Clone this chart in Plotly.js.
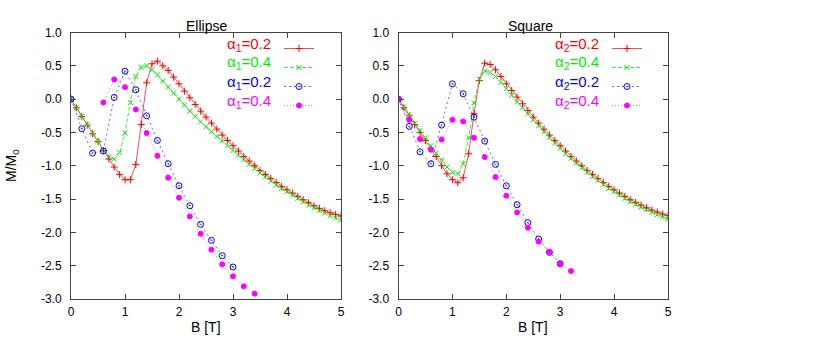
<!DOCTYPE html>
<html>
<head>
<meta charset="utf-8">
<script src="https://cdn.plot.ly/plotly-3.0.1.min.js"></script>
<style>html,body{margin:0;padding:0;background:#fff}#chart{width:839px;height:347px}</style>
</head>
<body>
<div id="chart"></div>
<script>
// ---------- data ----------
const fieldFine = [0.0,0.1,0.2,0.3,0.4,0.5,0.6,0.7,0.8,0.9,1.0,1.1,1.2,1.3,1.4,1.5,1.6,1.7,1.8,1.9,2.0,2.1,2.2,2.3,2.4,2.5,2.6,2.7,2.8,2.9,3.0,3.1,3.2,3.3,3.4,3.5,3.6,3.7,3.8,3.9,4.0,4.1,4.2,4.3,4.4,4.5,4.6,4.7,4.8,4.9,5.0];

// Ellipse panel
const ellipseA1_02 = [0,-0.13,-0.26,-0.39,-0.52,-0.635,-0.77,-0.90,-1.02,-1.13,-1.21,-1.21,-0.98,-0.38,0.245,0.53,0.57,0.50,0.43,0.33,0.23,0.12,0.02,-0.08,-0.18,-0.27,-0.36,-0.45,-0.54,-0.62,-0.70,-0.78,-0.86,-0.93,-1.00,-1.07,-1.13,-1.19,-1.25,-1.31,-1.36,-1.41,-1.46,-1.51,-1.555,-1.60,-1.64,-1.675,-1.705,-1.73,-1.755];
const ellipseA1_04 = [0,-0.13,-0.26,-0.38,-0.51,-0.63,-0.76,-0.86,-0.90,-0.80,-0.51,-0.05,0.34,0.48,0.50,0.44,0.365,0.27,0.18,0.09,0.0,-0.09,-0.18,-0.26,-0.34,-0.415,-0.49,-0.56,-0.625,-0.70,-0.77,-0.84,-0.91,-0.98,-1.04,-1.11,-1.17,-1.23,-1.29,-1.34,-1.39,-1.44,-1.49,-1.54,-1.59,-1.63,-1.67,-1.71,-1.75,-1.785,-1.82];
const ellipseBlueField = [0.0,0.2,0.4,0.6,0.8,1.0,1.2,1.4,1.6,1.8,2.0,2.2,2.4,2.6,2.8,3.0];
const ellipseBlueA1_02 = [0,-0.445,-0.81,-0.78,0.025,0.42,0.14,-0.25,-0.62,-0.97,-1.30,-1.60,-1.88,-2.12,-2.35,-2.52];
const ellipseMagField = [0.6,0.8,1.0,1.2,1.4,1.6,1.8,2.0,2.2,2.4,2.6,2.8,3.0,3.2,3.4];
const ellipseMagA1_04 = [-0.05,0.295,0.18,-0.155,-0.51,-0.85,-1.18,-1.48,-1.76,-2.02,-2.26,-2.48,-2.66,-2.81,-2.92];

// Square panel
const squareA2_02 = [0,-0.13,-0.25,-0.38,-0.50,-0.62,-0.74,-0.86,-1.00,-1.12,-1.21,-1.255,-1.18,-0.82,-0.22,0.28,0.54,0.52,0.44,0.34,0.23,0.13,0.03,-0.07,-0.17,-0.27,-0.36,-0.45,-0.54,-0.62,-0.70,-0.78,-0.86,-0.93,-1.00,-1.07,-1.13,-1.19,-1.25,-1.31,-1.36,-1.41,-1.46,-1.51,-1.55,-1.59,-1.63,-1.665,-1.695,-1.725,-1.75];
const squareA2_04 = [0,-0.12,-0.24,-0.36,-0.47,-0.58,-0.70,-0.81,-0.92,-1.02,-1.10,-1.12,-0.97,-0.58,-0.06,0.30,0.42,0.40,0.34,0.25,0.16,0.06,-0.04,-0.13,-0.22,-0.31,-0.40,-0.49,-0.58,-0.66,-0.74,-0.82,-0.89,-0.96,-1.03,-1.10,-1.16,-1.22,-1.28,-1.34,-1.39,-1.44,-1.49,-1.54,-1.58,-1.62,-1.66,-1.70,-1.735,-1.77,-1.80];
const squareBlueField = [0.0,0.2,0.4,0.6,0.8,1.0,1.2,1.4,1.6,1.8,2.0,2.2,2.4,2.6,2.8,3.0];
const squareBlueA2_02 = [0,-0.41,-0.79,-0.97,-0.39,0.23,0.08,-0.27,-0.63,-0.98,-1.30,-1.585,-1.855,-2.10,-2.30,-2.47];
const squareMagField = [0.0,0.2,0.4,0.6,0.8,1.0,1.2,1.4,1.6,1.8,2.0,2.2,2.4,2.6,2.8,3.0,3.2];
const squareMagA2_04 = [0,-0.31,-0.60,-0.76,-0.605,-0.31,-0.335,-0.58,-0.87,-1.17,-1.45,-1.70,-1.93,-2.14,-2.29,-2.47,-2.58];

const ellipseLabels = ['α<sub>1</sub>=0.2','α<sub>1</sub>=0.4','α<sub>1</sub>=0.2','α<sub>1</sub>=0.4'];
const squareLabels  = ['α<sub>2</sub>=0.2','α<sub>2</sub>=0.4','α<sub>2</sub>=0.2','α<sub>2</sub>=0.4'];
const panelTitles = ['Ellipse','Square'];
const xTickVals = [0,1,2,3,4,5];
const xTickText = ['0','1','2','3','4','5'];
const yTickVals = [-3,-2.5,-2,-1.5,-1,-0.5,0,0.5,1];
const yTickText = ['-3.0','-2.5','-2.0','-1.5','-1.0','-0.5','0.0','0.5','1.0'];

// ---------- styles ----------
const W = 839, H = 347;
const FONT = 'Liberation Sans, Arial, Helvetica, sans-serif';
const colors = ['#ff0000','#00ee00','#0000ff','#ff00ff'];
const lineColors = ['rgba(255,0,0,0.7)','rgba(0,220,0,0.7)','rgba(0,0,255,0.6)','rgba(255,0,255,0.6)'];
const styles = [
  {dash:'solid', symbol:'cross-thin', size:5},
  {dash:'4px,2px', symbol:'x-thin', size:5},
  {dash:'2px,3px', symbol:'circle-open-dot', size:6},
  {dash:'1px,2px', symbol:'circle', size:5}
];
function mk(x, y, i, xa, ya, leg) {
  const s = styles[i];
  return {
    x: x, y: y, xaxis: xa, yaxis: ya, type: 'scatter', mode: 'lines+markers',
    name: '\u00a0', legend: leg, showlegend: true, hoverinfo: 'skip',
    line: {color: lineColors[i], width: 1, dash: s.dash},
    marker: {symbol: s.symbol, size: s.size, color: colors[i],
             line: {color: colors[i], width: 1}}
  };
}
const traces = [
  mk(fieldFine, ellipseA1_02, 0, 'x', 'y', 'legend'),
  mk(fieldFine, ellipseA1_04, 1, 'x', 'y', 'legend'),
  mk(ellipseBlueField, ellipseBlueA1_02, 2, 'x', 'y', 'legend'),
  mk(ellipseMagField, ellipseMagA1_04, 3, 'x', 'y', 'legend'),
  mk(fieldFine, squareA2_02, 0, 'x2', 'y2', 'legend2'),
  mk(fieldFine, squareA2_04, 1, 'x2', 'y2', 'legend2'),
  mk(squareBlueField, squareBlueA2_02, 2, 'x2', 'y2', 'legend2'),
  mk(squareMagField, squareMagA2_04, 3, 'x2', 'y2', 'legend2')
];

const frame = '#444';
function xa(dom) {
  return {domain: dom, range: [0,5], tickvals: xTickVals, ticktext: xTickText,
    ticks: 'inside', ticklen: 5, tickcolor: frame, showline: true, linecolor: frame, linewidth: 1,
    mirror: 'ticks', showgrid: false, zeroline: false, fixedrange: true, ticklabelstandoff: 2,
    tickfont: {family: FONT, size: 12, color: '#000'}};
}
function ya(dom) {
  return {domain: dom, range: [-3,1], tickvals: yTickVals, ticktext: yTickText,
    ticks: 'inside', ticklen: 5, tickcolor: frame, showline: true, linecolor: frame, linewidth: 1,
    mirror: 'ticks', showgrid: false, zeroline: false, fixedrange: true, ticklabelstandoff: 6,
    tickfont: {family: FONT, size: 12, color: '#000'}};
}
const yDom = [48/H, 1 - 32.5/H];
const leftDom = [71/W, 341/W];
const rightDom = [398.5/W, 668/W];

const rowY = [44, 63, 82, 101];
const annotations = [];
function ann(text, px, py, opts) {
  annotations.push(Object.assign({text: text, xref: 'paper', yref: 'paper', x: px/W, y: 1 - py/H,
    showarrow: false, xanchor: 'center', yanchor: 'middle',
    font: {family: FONT, size: 14, color: '#000'}}, opts || {}));
}
ann(panelTitles[0], 206, 26);
ann(panelTitles[1], 530, 26);
ann('B [T]', 206, 327);
ann('B [T]', 533, 327);
ann('M/M<sub>0</sub>', 12, 166, {textangle: -90});
for (let i = 0; i < 4; i++) {
  ann(ellipseLabels[i], 273, rowY[i], {xanchor: 'right', font: {family: FONT, size: 15, color: colors[i]}});
  ann(squareLabels[i], 601, rowY[i], {xanchor: 'right', font: {family: FONT, size: 15, color: colors[i]}});
}

const legBase = {bgcolor: 'rgba(0,0,0,0)', borderwidth: 0, xanchor: 'left', yanchor: 'top',
  y: 1 - 34/H, font: {family: FONT, size: 12}, itemclick: false, itemdoubleclick: false};

const layout = {
  width: W, height: H, margin: {l: 0, r: 0, t: 0, b: 0},
  paper_bgcolor: '#fff', plot_bgcolor: '#fff',
  xaxis: Object.assign(xa(leftDom), {anchor: 'y'}),
  yaxis: Object.assign(ya(yDom), {anchor: 'x'}),
  xaxis2: Object.assign(xa(rightDom), {anchor: 'y2'}),
  yaxis2: Object.assign(ya(yDom), {anchor: 'x2'}),
  legend: Object.assign({}, legBase, {x: 279/W}),
  legend2: Object.assign({}, legBase, {x: 607/W}),
  annotations: annotations,
  font: {family: FONT, color: '#000'}
};
Plotly.newPlot('chart', traces, layout, {displayModeBar: false, staticPlot: true});
</script>
</body>
</html>
